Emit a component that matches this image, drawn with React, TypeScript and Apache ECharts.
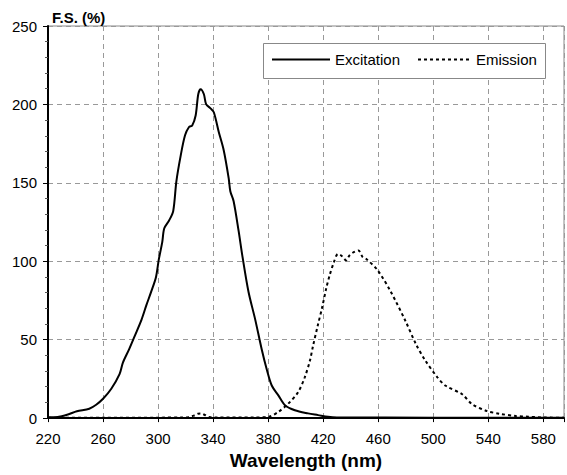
import React, { useEffect, useRef } from "react";
import * as echarts from "echarts";

const excitationNm = [220, 225, 230, 235, 241, 250, 255, 260, 266, 272, 274.5, 279, 283, 288, 291.5, 295, 298.5, 300.5, 303, 304.5, 308, 311, 313.3, 316.5, 319.6, 322.5, 324.8, 327.3, 329.2, 330.9, 333.3, 334.9, 338.1, 340.5, 344.1, 347.7, 351.3, 352.5, 354.9, 358.5, 361.4, 365.7, 370.6, 375.3, 378.9, 382.6, 387.4, 392.2, 399.4, 409, 416.3, 423.5, 430, 500, 595];
const excitationVal = [0.5, 0.5, 1.2, 2.5, 4.4, 6, 8.5, 12.3, 18.7, 28, 35.5, 44, 52.3, 62.8, 72, 80.6, 90, 101, 112, 121, 126, 132, 151, 167.7, 180.3, 185.6, 186.6, 192.9, 206.5, 209.7, 206.5, 200.2, 197.5, 195, 182.4, 170.8, 153, 144.6, 138.3, 119.5, 102.6, 80.6, 62.8, 43.9, 31.3, 20.8, 14.5, 8.2, 5, 3, 1.9, 0.8, 0.4, 0.3, 0.3];

const emissionNm = [220, 260, 300, 318, 322, 326, 329, 331, 334, 337, 342, 370, 380.2, 387.4, 394.6, 401.8, 406.6, 410.3, 412.6, 416.2, 419.1, 422.2, 424.7, 427.8, 430.7, 433.1, 436.7, 439.1, 442.2, 445.6, 448.7, 451.1, 459.5, 469.1, 479.9, 487.5, 494, 503, 509, 521, 528, 539, 548, 560, 569, 580, 595];
const emissionVal = [0.3, 0.3, 0.3, 0.4, 0.6, 1.6, 2.8, 3, 2, 0.7, 0.4, 0.4, 0.8, 4, 9.2, 16.6, 26, 36.5, 46, 59.6, 70, 82.7, 91.1, 99.5, 104.7, 103.7, 100.6, 103.7, 105.8, 106.9, 102.6, 101.6, 94.3, 80.6, 61.7, 47, 37, 26, 20.6, 15.2, 9, 4.5, 2.8, 1.3, 0.9, 0.4, 0.2];

const xTicks = [220, 260, 300, 340, 380, 420, 460, 500, 540, 580];
const yTicks = [0, 50, 100, 150, 200, 250];

const SANS = "'Liberation Sans', Arial, Helvetica, sans-serif";

export default function App() {
  const ref = useRef<HTMLDivElement>(null);
  useEffect(() => {
    if (!ref.current) return;
    const chart = echarts.init(ref.current, undefined, { renderer: "svg" });
    const exData = excitationNm.map((x, i) => [x, excitationVal[i]]);
    const emData = emissionNm.map((x, i) => [x, emissionVal[i]]);
    const legendCommon = {
      top: 52,
      padding: 0,
      itemHeight: 16,
      selectedMode: false,
      itemStyle: { opacity: 0 },
      textStyle: { fontFamily: SANS, fontSize: 15, color: "#000" },
    };
    chart.setOption({
      animation: false,
      backgroundColor: "#ffffff",
      grid: {
        left: 48,
        right: 0,
        top: 26,
        bottom: 52,
        show: true,
        borderColor: "#888",
        borderWidth: 1,
      },
      xAxis: {
        type: "value",
        min: 220,
        max: 595,
        interval: 40,
        name: "Wavelength (nm)",
        nameLocation: "middle",
        nameGap: 30,
        nameTextStyle: { fontFamily: SANS, fontWeight: "bold", fontSize: 19, color: "#000" },
        axisLine: { show: true, onZero: false, lineStyle: { color: "#000", width: 2 } },
        axisTick: { show: true, length: 4, lineStyle: { color: "#000" } },
        axisLabel: {
          margin: 13,
          fontFamily: SANS,
          fontSize: 15,
          color: "#000",
          formatter: (v: number) => (xTicks.indexOf(v) >= 0 ? String(v) : ""),
        },
        splitLine: { show: true, lineStyle: { color: "#999", type: [5, 4], width: 1 } },
      },
      yAxis: {
        type: "value",
        min: 0,
        max: 250,
        interval: 50,
        axisLine: { show: true, lineStyle: { color: "#000", width: 2 } },
        axisTick: { show: true, length: 5, lineStyle: { color: "#000" } },
        minorTick: { show: true, splitNumber: 5, length: 3, lineStyle: { color: "#555" } },
        axisLabel: {
          margin: 11,
          fontFamily: SANS,
          fontSize: 15,
          color: "#000",
          formatter: (v: number) => (yTicks.indexOf(v) >= 0 ? String(v) : ""),
        },
        splitLine: { show: true, lineStyle: { color: "#999", type: [5, 4], width: 1 } },
      },
      legend: [
        { ...legendCommon, data: ["Excitation"], left: 271, itemWidth: 58 },
        { ...legendCommon, data: ["Emission"], left: 417, itemWidth: 53, itemGap: 0 },
      ],
      graphic: [
        {
          type: "rect",
          z: 3,
          shape: { x: 263.5, y: 43.5, width: 282, height: 35 },
          style: { fill: "#fff", stroke: "#888", lineWidth: 1 },
        },
        {
          type: "text",
          left: 52,
          top: 10,
          z: 5,
          style: {
            text: "F.S. (%)",
            fontFamily: SANS,
            fontWeight: "bold",
            fontSize: 15,
            fill: "#000",
          },
        },
      ],
      series: [
        {
          name: "Excitation",
          type: "line",
          data: exData,
          showSymbol: false,
          symbol: "none",
          smooth: 0.3,
          lineStyle: { color: "#000", width: 2, type: "solid" },
          itemStyle: { color: "#000" },
          z: 4,
        },
        {
          name: "Emission",
          type: "line",
          data: emData,
          showSymbol: false,
          symbol: "none",
          smooth: 0.3,
          lineStyle: { color: "#000", width: 2, type: [3, 3] },
          itemStyle: { color: "#000" },
          z: 4,
        },
      ],
    });
    return () => chart.dispose();
  }, []);
  return (
    <div
      ref={ref}
      style={{ position: "fixed", left: 0, top: 0, width: 567, height: 475, background: "#fff" }}
    />
  );
}
